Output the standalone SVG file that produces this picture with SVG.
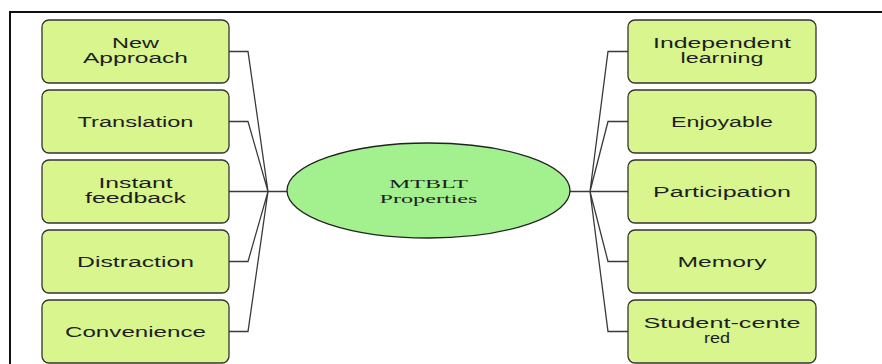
<svg xmlns="http://www.w3.org/2000/svg" width="882" height="364" viewBox="0 0 882 364">
<style>
.box{fill:#d8f58e;stroke:#333;stroke-width:1.3}
.lbl{font-family:"Liberation Sans",Arial,sans-serif;font-size:14px;fill:#1e1e1e;text-anchor:middle}
.hub{font-family:"Liberation Serif","Times New Roman",serif;font-size:13px;fill:#1e1e1e;text-anchor:middle}
.con{fill:none;stroke:#3a3a3a;stroke-width:1.3}
</style>
<rect width="882" height="364" fill="#fff"/>
<path d="M10 364V12H882" fill="none" stroke="#111" stroke-width="2"/>
<g id="connectors">
<path class="con" d="M229 51.5H248L268 191.5M229 121.5H248L268 191.5M229 191.5H287M229 261.5H248L268 191.5M229 331.5H248L268 191.5"/>
<path class="con" d="M570 191.5H628M590 191.5L608 51.5H628M590 191.5L608 121.5H628M590 191.5L608 261.5H628M590 191.5L608 331.5H628"/>
</g>
<g id="hub">
<ellipse cx="428.5" cy="190.5" rx="141.5" ry="47.5" fill="#a2f08e" stroke="#222" stroke-width="1.3"/>
<text class="hub" x="428.5" y="187.8" textLength="79" lengthAdjust="spacingAndGlyphs">MTBLT</text>
<text class="hub" x="428.5" y="203" textLength="98" lengthAdjust="spacingAndGlyphs">Properties</text>
</g>
<g id="new-approach">
<rect class="box" x="42" y="20" width="187" height="63" rx="7"/>
<text class="lbl" x="135.5" y="48" textLength="47" lengthAdjust="spacingAndGlyphs">New</text>
<text class="lbl" x="135.5" y="63" textLength="105" lengthAdjust="spacingAndGlyphs">Approach</text>
</g>
<g id="translation">
<rect class="box" x="42" y="90" width="187" height="63" rx="7"/>
<text class="lbl" x="135.5" y="126.5" textLength="116" lengthAdjust="spacingAndGlyphs">Translation</text>
</g>
<g id="instant-feedback">
<rect class="box" x="42" y="160" width="187" height="63" rx="7"/>
<text class="lbl" x="135.5" y="188.3" textLength="74" lengthAdjust="spacingAndGlyphs">Instant</text>
<text class="lbl" x="135.5" y="203.3" textLength="101" lengthAdjust="spacingAndGlyphs">feedback</text>
</g>
<g id="distraction">
<rect class="box" x="42" y="230" width="187" height="63" rx="7"/>
<text class="lbl" x="135.5" y="266.5" textLength="117" lengthAdjust="spacingAndGlyphs">Distraction</text>
</g>
<g id="convenience">
<rect class="box" x="42" y="300" width="187" height="63" rx="7"/>
<text class="lbl" x="135.5" y="336.5" textLength="141" lengthAdjust="spacingAndGlyphs">Convenience</text>
</g>
<g id="independent-learning">
<rect class="box" x="628" y="20" width="188" height="63" rx="7"/>
<text class="lbl" x="722" y="48" textLength="138" lengthAdjust="spacingAndGlyphs">Independent</text>
<text class="lbl" x="722" y="63" textLength="83" lengthAdjust="spacingAndGlyphs">learning</text>
</g>
<g id="enjoyable">
<rect class="box" x="628" y="90" width="188" height="63" rx="7"/>
<text class="lbl" x="722" y="126.5" textLength="102" lengthAdjust="spacingAndGlyphs">Enjoyable</text>
</g>
<g id="participation">
<rect class="box" x="628" y="160" width="188" height="63" rx="7"/>
<text class="lbl" x="722" y="196.5" textLength="138" lengthAdjust="spacingAndGlyphs">Participation</text>
</g>
<g id="memory">
<rect class="box" x="628" y="230" width="188" height="63" rx="7"/>
<text class="lbl" x="722" y="266.5" textLength="89" lengthAdjust="spacingAndGlyphs">Memory</text>
</g>
<g id="student-centered">
<rect class="box" x="628" y="300" width="188" height="63" rx="7"/>
<text class="lbl" x="722" y="328.3" textLength="157" lengthAdjust="spacingAndGlyphs">Student-cente</text>
<text class="lbl" x="717" y="343.3" textLength="26" lengthAdjust="spacingAndGlyphs">red</text>
</g>
</svg>
